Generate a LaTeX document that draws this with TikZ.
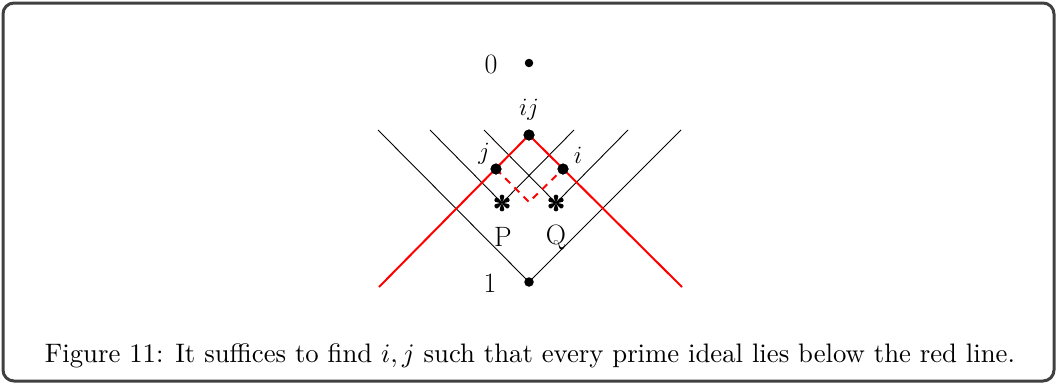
\documentclass[tikz,border=0pt]{standalone}
\usepackage{graphicx}
\begin{document}
\begin{tikzpicture}[x=1pt,y=-1pt,
  dot/.style={circle,fill=black,inner sep=0pt,minimum size=#1},
  dot/.default=10pt,
  lbl/.style={inner sep=0pt,font=\fontsize{28}{32}\selectfont},
  thinline/.style={black,line width=0.9pt},
  redline/.style={red,line width=2pt},
  reddash/.style={red,line width=2pt,dash pattern=on 7pt off 6pt},
  petal/.style={fill=black}]
\useasboundingbox (0,0) rectangle (1057,384);
\draw[line width=3pt,black!75,rounded corners=11pt] (3,3) rectangle (1054,381);

% nodes
\node[dot=8.5pt] (zero) at (529,63) {};
\node[dot=11pt] (ij) at (529,135) {};
\node[dot=11pt] (j) at (496,169) {};
\node[dot=11pt] (i) at (563,169) {};
\node[dot=9.5pt] (one) at (529,282) {};
\coordinate (P) at (502,203);
\coordinate (Q) at (556,203);
\coordinate (v) at (529,202);

% end points of lines
\coordinate (a1) at (378,130); \coordinate (a2) at (681,130);
\coordinate (b1) at (430,130); \coordinate (b2) at (574,130);
\coordinate (c1) at (484,130); \coordinate (c2) at (628,130);
\coordinate (r1) at (379,287); \coordinate (r2) at (682,287);

% black lines
\draw[thinline] (a1) -- (one.center) -- (a2);
\draw[thinline] (b1) -- (P) -- (b2);
\draw[thinline] (c1) -- (Q) -- (c2);

% red lines
\draw[redline,line join=miter] (r1) -- (ij.center) -- (r2);
\draw[reddash] (j.center) -- (v) -- (i.center);

% redraw dots on top
\node[dot=11pt] at (ij) {};
\node[dot=11pt] at (j) {};
\node[dot=11pt] at (i) {};

% stars
\foreach \c in {P,Q}{
  \foreach \a in {90,150,210,270,330,30}{
    \fill[petal,shift={(\c)},rotate=\a] (0,0) .. controls (2,-0.6) and (4,-2.4) .. (6.5,-2.3) .. controls (9,-2) and (9,2) .. (6.5,2.3) .. controls (4,2.4) and (2,0.6) .. (0,0);
  }
}

% labels
\node[lbl] (l0) at (491,64) {0};
\node[lbl] (l1) at (490,283) {1};
\node[lbl] (lij) at (529,110) {$ij$};
\node[lbl] (lj) at (484,154) {$j$};
\node[lbl] (li) at (578,155) {$i$};
\node[lbl] (lP) at (503,237) {P};
\node[lbl] (lQ) at (556,237) {Q};

% caption
\node[inner sep=0pt] (cap) at (530,356) {\resizebox{970pt}{!}{Figure 11: It suffices to find $i,j$ such that every prime ideal lies below the red line.}};
\end{tikzpicture}
\end{document}
